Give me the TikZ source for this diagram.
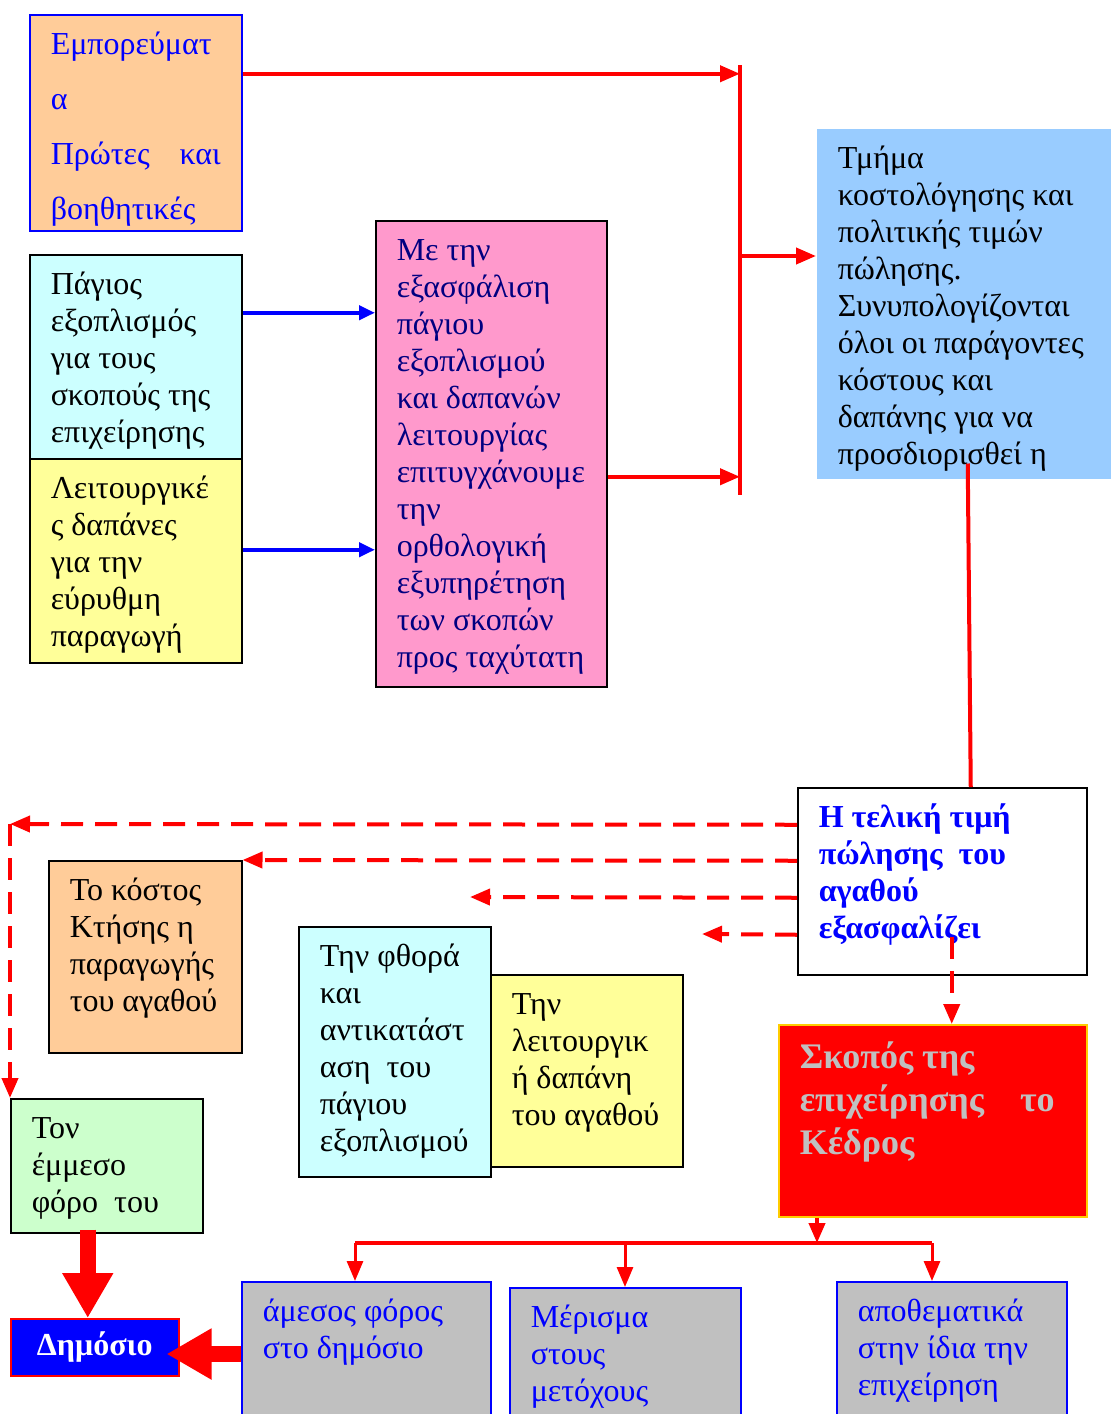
\documentclass[tikz,border=0pt]{standalone}
\usepackage{fontspec}
\setmainfont{Liberation Serif}
\usetikzlibrary{arrows.meta}

\definecolor{peach}{HTML}{FFCC99}
\definecolor{icecyan}{HTML}{CCFFFF}
\definecolor{paleyellow}{HTML}{FFFF99}
\definecolor{rosepink}{HTML}{FF99CC}
\definecolor{skyblue}{HTML}{99CCFF}
\definecolor{palegreen}{HTML}{CCFFCC}
\definecolor{silvergray}{HTML}{C0C0C0}
\definecolor{navytext}{HTML}{000080}
\definecolor{goldedge}{HTML}{FFCC00}

% box text: total width, total height, lines
\newcommand{\cellbox}[3]{\parbox[c][\dimexpr#2-28pt\relax][t]{\dimexpr#1-42pt\relax}{\raggedright\strut #3}}

\begin{document}
\begin{tikzpicture}[
    x=1pt, y=-1pt,
    cell/.style={
        anchor=north west,
        inner xsep=21pt,
        inner ysep=14pt,
        line width=1.5pt,
        font=\fontsize{32}{37}\selectfont
    },
    redline/.style={draw=red, line width=4pt, -{Triangle[length=20pt,width=16pt]}},
    blueline/.style={draw=blue, line width=4pt, -{Triangle[length=16pt,width=14pt]}},
    dashline/.style={draw=red, line width=4pt, dash pattern=on 22pt off 12pt, -{Triangle[length=20pt,width=16pt]}},
    bigarrow/.style={draw=red, line width=16pt, -{Triangle[length=45pt,width=48pt]}}
]

\useasboundingbox[fill=white] (0,0) rectangle (1111,1414);

% Inputs
\node[cell, fill=peach, draw=blue, text=blue] (goods) at (29,14)
    {\cellbox{212pt}{216pt}{Εμπορεύματ\\[18pt]α\\[18pt]Πρώτες\hspace{\fill}και\\[18pt]βοηθητικές}};
\node[cell, fill=icecyan, draw=black] (fixed) at (29,254)
    {\cellbox{212pt}{204pt}{Πάγιος\\εξοπλισμός\\για τους\\σκοπούς της\\επιχείρησης}};
\node[cell, fill=paleyellow, draw=black] (opex) at (29,458)
    {\cellbox{212pt}{204pt}{Λειτουργικέ\\ς δαπάνες\\για την\\εύρυθμη\\παραγωγή}};
\node[cell, fill=rosepink, draw=black, text=navytext] (plan) at (375,220)
    {\cellbox{231pt}{466pt}{Με την\\εξασφάλιση\\πάγιου\\εξοπλισμού\\και δαπανών\\λειτουργίας\\επιτυγχάνουμε\\την\\ορθολογική\\εξυπηρέτηση\\των σκοπών\\προς ταχύτατη}};
\node[cell, fill=skyblue] (costing) at (816,128)
    {\cellbox{295pt}{350pt}{Τμήμα\\κοστολόγησης και\\πολιτικής τιμών\\πώλησης.\\Συνυπολογίζονται\\όλοι οι παράγοντες\\κόστους και\\δαπάνης για να\\προσδιορισθεί η}};

% Price and goal
\node[cell, fill=white, draw=black, text=blue, font=\fontsize{32}{37}\selectfont\bfseries] (price) at (797,787)
    {\cellbox{289pt}{187pt}{Η τελική τιμή\\πώλησης\ \ του\\αγαθού\\εξασφαλίζει}};
\node[cell, fill=red, draw=goldedge, text=silvergray, font=\fontsize{36}{43}\selectfont\bfseries] (kedros) at (778,1024)
    {\cellbox{308pt}{192pt}{Σκοπός της\\επιχείρησης\quad το\\Κέδρος}};

% Cost parts
\node[cell, fill=peach, draw=black] (cost) at (48,860)
    {\cellbox{193pt}{192pt}{Το κόστος\\Κτήσης η\\παραγωγής\\του αγαθού}};
\node[cell, fill=paleyellow, draw=black] (upkeep) at (490,974)
    {\cellbox{192pt}{192pt}{Την\\λειτουργικ\\ή δαπάνη\\του αγαθού}};
\node[cell, fill=icecyan, draw=black] (wear) at (298,926)
    {\cellbox{192pt}{250pt}{Την φθορά\\και\\αντικατάστ\\αση\ \ του\\πάγιου\\εξοπλισμού}};
\node[cell, fill=palegreen, draw=black] (vat) at (10,1098)
    {\cellbox{192pt}{134pt}{Τον\\έμμεσο\\φόρο\ \ του}};
\node[anchor=north west, minimum width=168pt, minimum height=57pt, inner sep=0pt,
    fill=blue, draw=red, line width=1.5pt, text=white,
    font=\fontsize{32}{36}\selectfont\bfseries] (pub) at (10,1318) {Δημόσιο};

% Profit split
\node[cell, fill=silvergray, draw=blue, text=blue] (direct) at (241,1281)
    {\cellbox{249pt}{150pt}{άμεσος φόρος\\στο δημόσιο}};
\node[cell, fill=silvergray, draw=blue, text=blue] (share) at (509,1287)
    {\cellbox{231pt}{144pt}{Μέρισμα\\στους\\μετόχους}};
\node[cell, fill=silvergray, draw=blue, text=blue] (reserve) at (836,1281)
    {\cellbox{230pt}{150pt}{αποθεματικά\\στην ίδια την\\επιχείρηση}};

% Bus to costing
\coordinate (busT) at (740,65);
\coordinate (busB) at (740,495);
\coordinate (busC) at (740,256);
\coordinate (g1) at ([yshift=49pt]goods.east);
\coordinate (p1) at ([yshift=-23pt]plan.east);
\draw[red, line width=4pt] (busT) -- (busB);
\draw[redline] (g1) -- (g1 -| busB);
\draw[redline] (p1) -- (p1 -| busB);
\draw[redline] (busC) -- (busC -| costing.west);

% Inputs into plan
\coordinate (b1) at ([yshift=44pt]fixed.east);
\coordinate (b2) at ([yshift=11pt]opex.east);
\draw[blueline] (b1) -- (b1 -| plan.west);
\draw[blueline] (b2) -- (b2 -| plan.west);

% Costing to price
\draw[red, line width=4pt] ([xshift=3.5pt,yshift=16pt]costing.south) -- ([xshift=28.5pt]price.north);

% Price covers
\coordinate (lft) at (10,824);
\coordinate (tip3) at (470,897);
\coordinate (tip4) at (702,934);
\coordinate (dn) at ([xshift=9.5pt,yshift=-55.5pt]price.center);
\draw[dashline] ([yshift=56.5pt]price.west) -- (lft);
\draw[dashline] (lft) -- (vat.north west);
\draw[dashline] ([yshift=20.5pt]price.west) -- (cost.north east);
\draw[dashline] ([yshift=-16.5pt]price.west) -- (tip3);
\draw[dashline] ([yshift=-53.5pt]price.west) -- (tip4);
\draw[dashline] (dn) -- (dn |- kedros.north);

% Goal split
\coordinate (split) at (817,1243);
\coordinate (busL) at (355,1243);
\coordinate (busM) at (625,1243);
\coordinate (busR) at (932,1243);
\draw[redline] (split |- kedros.south) -- (split);
\draw[red, line width=4pt] (busL) -- (busR);
\draw[redline, line width=3pt] (busL) -- (busL |- direct.north);
\draw[redline, line width=3pt] (busM) -- (busM |- share.north);
\draw[redline, line width=3pt] (busR) -- (busR |- reserve.north);

% Taxes to public
\coordinate (taxtop) at ([xshift=-19pt,yshift=4pt]vat.south);
\coordinate (pubtip) at ([xshift=-13pt]pub.east);
\coordinate (taxrow) at (0,1354);
\draw[bigarrow] (taxtop) -- (taxtop |- pub.north);
\draw[bigarrow] (direct.west |- taxrow) -- (pubtip |- taxrow);

\end{tikzpicture}
\end{document}
